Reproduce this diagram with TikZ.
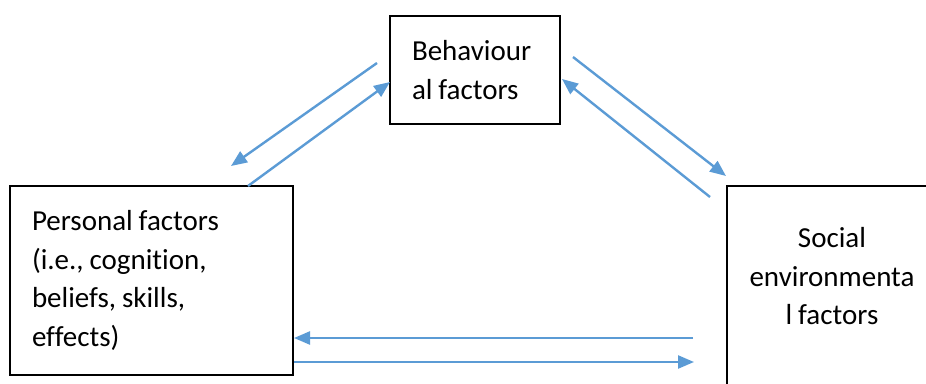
\documentclass[tikz,border=0pt]{standalone}
\usepackage{fontspec}
\setmainfont{Carlito}[Ligatures=NoCommon, WordSpace=0.9]
\usetikzlibrary{arrows.meta, positioning}
\definecolor{Office_Blue}{HTML}{5B9BD5}

\begin{document}
\begin{tikzpicture}[x=1pt, y=-1pt,
    factor/.style={draw=black, line width=1.5pt, rectangle, font=\fontsize{29}{38.5}\selectfont},
    factortext/.style={inner sep=0pt, align=center, font=\fontsize{29}{38.5}\selectfont},
    link/.style={Office_Blue, line width=2.4pt, -{Triangle[length=16pt, width=13pt]}}]
    \clip (0,0) rectangle (926,383);
    \node[factor, minimum width=170pt, minimum height=108pt, inner xsep=22pt, text width=126pt, align=flush left] (behaviour) at (475,70) {Behaviour\\al factors};
    \node[factor, minimum width=283pt, minimum height=189pt, inner xsep=22pt, text width=239pt, align=flush left] (personal) at (151.5,280.5) {Personal factors\\(i.e., cognition,\\beliefs, skills,\\effects)};
    \node[factor, minimum width=210pt, minimum height=250pt] (social) at (832,311) {};
    \node[factortext, below=42pt of social.north] (socialtext) {Social\\environmenta\\l factors};

    \coordinate (b2p_from) at (377,63);  \coordinate (b2p_to) at (231,166);
    \coordinate (p2b_from) at (248,186); \coordinate (p2b_to) at (390,82);
    \coordinate (b2s_from) at (573,57);  \coordinate (b2s_to) at (726,176);
    \coordinate (s2b_from) at (710,197); \coordinate (s2b_to) at (562,79);
    \coordinate (s2p_from) at (693,338); \coordinate (s2p_to) at (294,338);
    \coordinate (p2s_from) at (294,362); \coordinate (p2s_to) at (694,362);

    \draw[link] (b2p_from) -- (b2p_to);
    \draw[link] (p2b_from) -- (p2b_to);
    \draw[link] (b2s_from) -- (b2s_to);
    \draw[link] (s2b_from) -- (s2b_to);
    \draw[link] (s2p_from) -- (s2p_to);
    \draw[link] (p2s_from) -- (p2s_to);
\end{tikzpicture}
\end{document}
